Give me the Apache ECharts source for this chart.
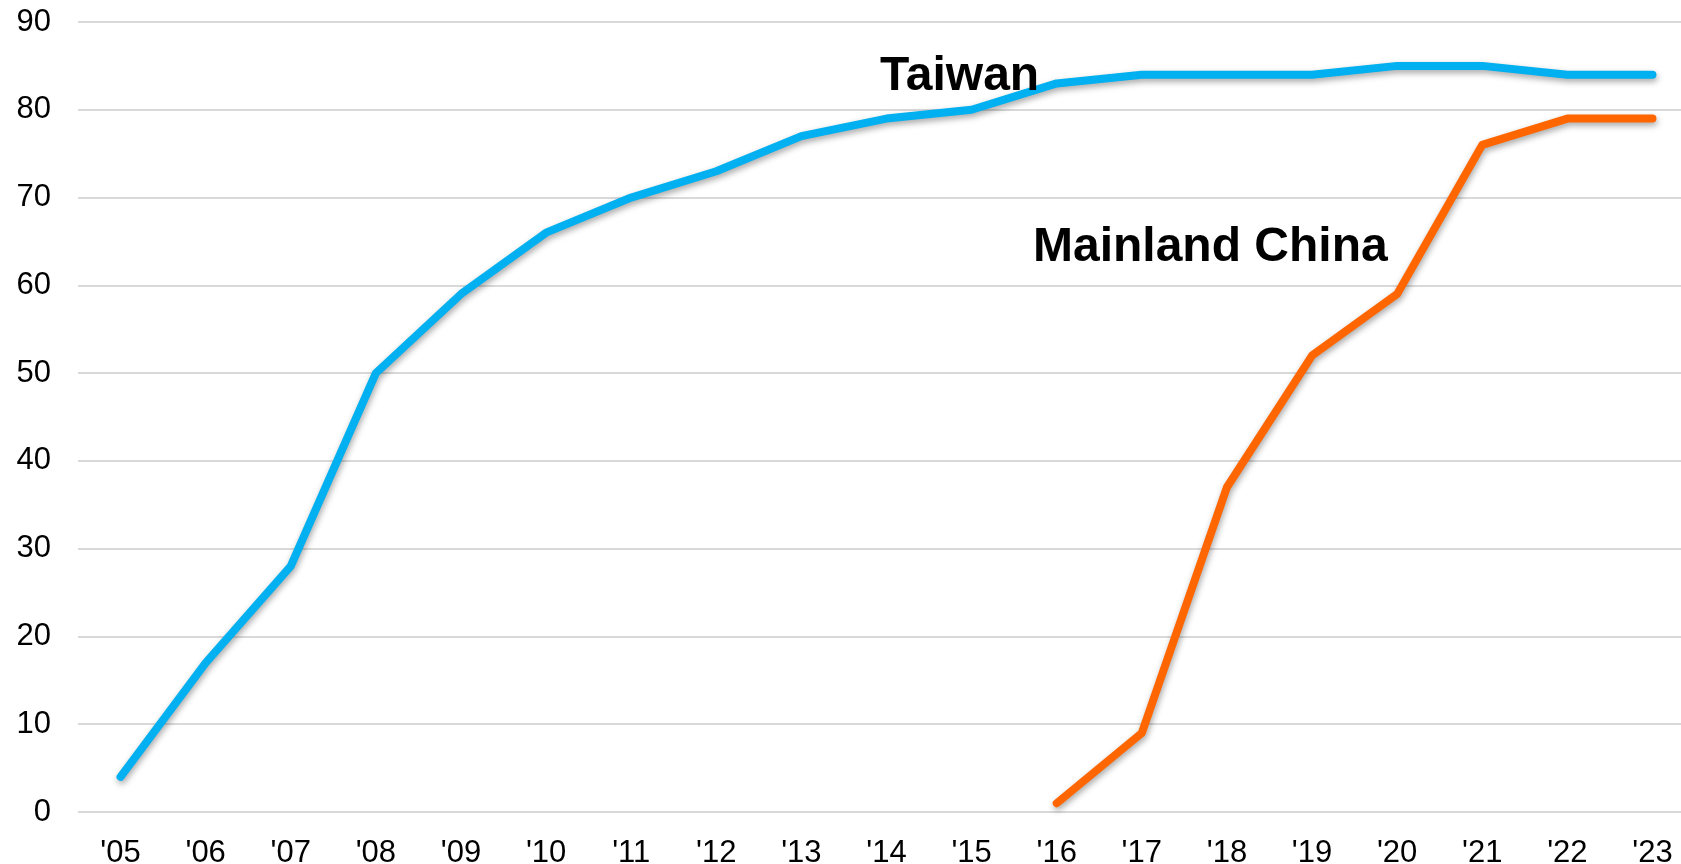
<!DOCTYPE html>
<html>
<head>
<meta charset="utf-8">
<style>
html,body{margin:0;padding:0;background:#fff;}
#chart{width:1681px;height:864px;}
</style>
<script src="https://cdn.jsdelivr.net/npm/echarts@6/dist/echarts.min.js"></script>
</head>
<body>
<div id="chart"></div>
<script>
var categories = ["'05","'06","'07","'08","'09","'10","'11","'12","'13","'14","'15","'16","'17","'18","'19","'20","'21","'22","'23"];
var taiwan = [4,17,28,50,59,66,70,73,77,79,80,83,84,84,84,85,85,84,84];
var mainland = [null,null,null,null,null,null,null,null,null,null,null,1,9,37,52,59,76,79,79];
var yTicks = {min:0, max:90, interval:10};

var chart = echarts.init(document.getElementById('chart'));
var font = 'Arial, "Liberation Sans", sans-serif';
chart.setOption({
  animation:false,
  grid:{left:78, right:-14, top:22, bottom:52, containLabel:false, outerBoundsMode:'none'},
  xAxis:{
    type:'category', data:categories, boundaryGap:true,
    axisLine:{show:false}, axisTick:{show:false},
    axisLabel:{color:'#000', fontSize:31, fontFamily:font, margin:26}
  },
  yAxis:{
    type:'value', min:yTicks.min, max:yTicks.max, interval:yTicks.interval,
    axisLine:{show:false}, axisTick:{show:false},
    axisLabel:{color:'#000', fontSize:31, fontFamily:font, margin:27},
    splitLine:{lineStyle:{color:'#d9d9d9', width:2}}
  },
  series:[
    {name:'Taiwan', type:'line', data:taiwan, symbol:'none',
     lineStyle:{color:'#00B0F0', width:8, cap:'round', join:'round',
       shadowColor:'rgba(0,0,0,0.35)', shadowBlur:6, shadowOffsetX:1, shadowOffsetY:3}},
    {name:'Mainland China', type:'line', data:mainland, symbol:'none',
     lineStyle:{color:'#FF6600', width:8, cap:'round', join:'round',
       shadowColor:'rgba(0,0,0,0.35)', shadowBlur:6, shadowOffsetX:1, shadowOffsetY:3}}
  ],
  graphic:[
    {type:'text', left:880, top:53, z:10,
     style:{text:'Taiwan', font:'bold 48px ' + font, fill:'#000'}},
    {type:'text', left:1033, top:224, z:10,
     style:{text:'Mainland China', font:'bold 48px ' + font, fill:'#000'}}
  ]
});
</script>
</body>
</html>
